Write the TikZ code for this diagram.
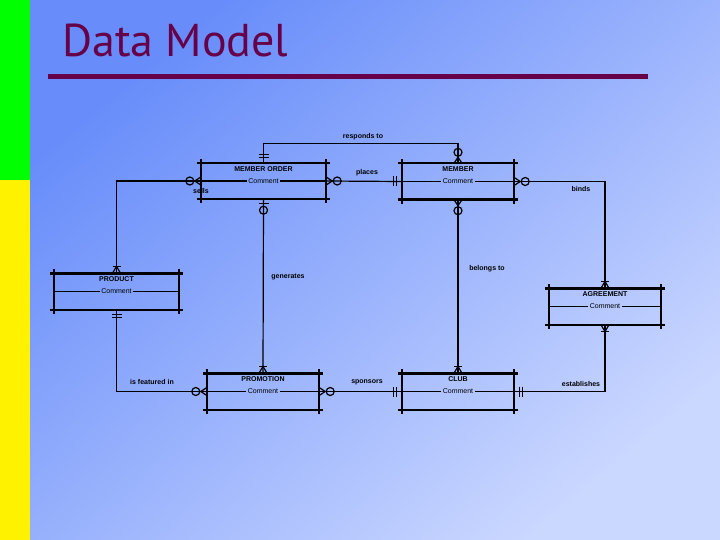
\documentclass[tikz,border=0pt]{standalone}
\usepackage{fontspec}
\setmainfont{Liberation Sans}
\newfontfamily\titlefont{PT Sans}
\usetikzlibrary{positioning,calc}

\definecolor{slidetop}{RGB}{104,141,250}
\definecolor{slidebot}{RGB}{202,215,255}
\definecolor{plum}{RGB}{102,0,72}

\begin{document}
\begin{tikzpicture}[
  x=1pt, y=-1pt,
  font=\fontsize{7}{8}\selectfont,
  ent/.style={minimum height=36pt, inner sep=0pt},
  enttitle/.style={font=\fontsize{7}{8}\selectfont\bfseries, inner sep=0pt},
  cmt/.style={inner sep=1.5pt},
  rel/.style={font=\fontsize{7}{8}\selectfont\bfseries, inner sep=1pt},
  boxline/.style={line width=2.4pt},
  midline/.style={line width=1.5pt},
  conn/.style={line width=1.2pt},
  tip/.style={line width=1.2pt},
  zmany/.pic={\draw[tip] (0,-4) -- (6,0) -- (0,4); \draw[tip] (11,0) circle[radius=4pt];},
  onemany/.pic={\draw[tip] (0,-4) -- (7,0) -- (0,4); \draw[tip] (7,-4) -- (7,4);},
  oneonly/.pic={\draw[tip] (5,-5) -- (5,5); \draw[tip] (8,-5) -- (8,5);},
  zone/.pic={\draw[tip] (4,-5) -- (4,5); \draw[tip] (11,0) circle[radius=4pt];}
]
\useasboundingbox (0,0) rectangle (720,540);

% --- slide background
\shade[top color=slidetop, bottom color=slidebot, shading angle=40] (30,0) rectangle (720,540);
\fill[green] (0,0) rectangle (30,180);
\fill[yellow] (0,180) rectangle (30,540);

% --- title
\node[font=\titlefont\fontsize{46}{50}\selectfont, text=plum, anchor=base west, inner sep=0pt] (title) at (62,57) {Data Model};
\draw[plum, line width=5pt] (48,76.5) -- (648,76.5);

% --- entities
\node[ent, minimum width=125pt] (mo) at (263.5,181) {};
\node[ent, minimum width=112pt] (mb) at (458,181.5) {};
\node[ent, minimum width=125pt] (pr) at (116.5,291.5) {};
\node[ent, minimum width=112pt] (ag) at (605,306.5) {};
\node[ent, minimum width=112pt] (pm) at (263,391.5) {};
\node[ent, minimum width=112pt] (cl) at (458,391.5) {};
\foreach \e/\t in {mo/MEMBER ORDER, mb/MEMBER, pr/PRODUCT, ag/AGREEMENT, pm/PROMOTION, cl/CLUB}{
  \draw[boxline] ([xshift=-4pt]\e.north west) -- ([xshift=4pt]\e.north east);
  \draw[boxline] ([xshift=-4pt]\e.south west) -- ([xshift=4pt]\e.south east);
  \draw[boxline] ([yshift=4pt]\e.north west) -- ([yshift=-4pt]\e.south west);
  \draw[boxline] ([yshift=4pt]\e.north east) -- ([yshift=-4pt]\e.south east);
  \node[enttitle] (\e-t) at ([yshift=-6pt]\e.north) {\t};
  \node[cmt] (\e-c) at (\e.center) {Comment};
  \draw[midline] (\e.west) -- (\e-c.west);
  \draw[midline] (\e-c.east) -- (\e.east);
}

% --- relationships
\draw[conn] (mo.north) -- ++(0,-19) -| (mb.north);
\draw[conn] (mo.east) -- (mb.west);
\draw[conn, line width=1.8pt] (mo.west) -| (pr.north);
\draw[conn] (mo.south) -- (pm.north);
\draw[conn] (mb.south) -- (cl.north);
\draw[conn] (mb.east) -| (ag.north);
\draw[conn] (cl.east) -| (ag.south);
\draw[conn] (pm.east) -- (cl.west);
\draw[conn] (pr.south) |- (pm.west);

% --- cardinality marks
\pic[rotate=90] at (mo.north) {oneonly};
\pic[rotate=90] at (mb.north) {zmany};
\pic at (mo.east) {zmany};
\pic[rotate=180] at (mb.west) {oneonly};
\pic[rotate=180] at (mo.west) {zmany};
\pic[rotate=90] at (pr.north) {onemany};
\pic[rotate=-90] at (mo.south) {zone};
\pic[rotate=90] at (pm.north) {onemany};
\pic[rotate=-90] at (mb.south) {zmany};
\pic[rotate=90] at (cl.north) {onemany};
\pic at (mb.east) {zmany};
\pic[rotate=90] at (ag.north) {onemany};
\pic at (cl.east) {oneonly};
\pic[rotate=-90] at (ag.south) {onemany};
\pic at (pm.east) {zmany};
\pic[rotate=180] at (cl.west) {oneonly};
\pic[rotate=-90] at (pr.south) {oneonly};
\pic[rotate=180] at (pm.west) {zmany};

% --- relationship names
\node[rel] (l-resp) at (363,137) {responds to};
\node[rel] (l-plac) at (367,173) {places};
\node[rel] (l-sell) at (201,191) {sells};
\node[rel] (l-gene) at (288,277) {generates};
\node[rel] (l-belo) at (487,269) {belongs to};
\node[rel] (l-bind) at (581,189) {binds};
\node[rel] (l-esta) at (581,384) {establishes};
\node[rel] (l-spon) at (367,382) {sponsors};
\node[rel] (l-feat) at (152,382) {is featured in};
\end{tikzpicture}
\end{document}
